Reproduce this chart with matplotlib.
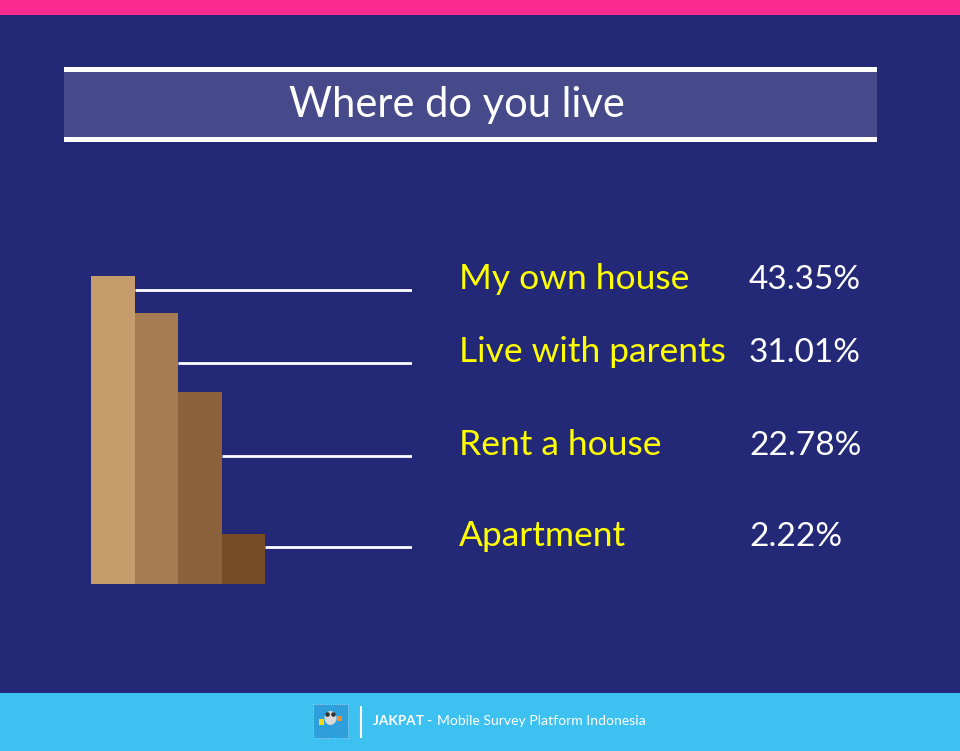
import matplotlib
matplotlib.use("Agg")
from matplotlib import pyplot as plt
from matplotlib import patches, transforms

# survey answers
categories = ['My own house', 'Live with parents', 'Rent a house', 'Apartment']
percent_labels = ['43.35%', '31.01%', '22.78%', '2.22%']
# bar heights and leader line levels as drawn in the picture (px-ish units)
bar_heights = [308, 271, 192, 50]
line_levels = [294, 221, 128, 37]
bar_colors = ['#C69C6D', '#A67C52', '#8B6239', '#754C24']

title = 'Where do you live'
footer_bold = 'JAKPAT -'
footer_text = 'Mobile Survey Platform Indonesia'

W, H = 960, 751
bg = '#232877'
font = 'Lato'

fig = plt.figure(figsize=(W / 100, H / 100), dpi=100)
fig.patch.set_facecolor(bg)

# background decorations in pixel coords
deco = fig.add_axes([0, 0, 1, 1])
deco.set_xlim(0, W)
deco.set_ylim(H, 0)
deco.axis('off')
deco.add_patch(patches.Rectangle((0, 0), W, 14.5, color='#FA2B8E', lw=0))
deco.add_patch(patches.Rectangle((64, 71.5), 813, 65.5, color='#464A8A', lw=0))
deco.add_patch(patches.Rectangle((64, 67), 813, 4.5, color='white', lw=0))
deco.add_patch(patches.Rectangle((64, 137), 813, 4.5, color='white', lw=0))
deco.text(456.5, 117, title, color='white', fontsize=30, family=font,
          ha='center', va='baseline')

# footer
deco.add_patch(patches.Rectangle((0, 693), W, 58, color='#3DC1F1', lw=0))
deco.add_patch(patches.Rectangle((313, 704), 35, 34, facecolor='#2F9FDC',
                                 edgecolor='#BFE6FA', lw=0.6, ls=':'))
deco.add_patch(patches.Ellipse((330.5, 718), 12, 14, color='#D9D9D9', lw=0))
deco.add_patch(patches.Circle((327.5, 714.5), 2.3, color='#333333', lw=0))
deco.add_patch(patches.Circle((333.5, 714.5), 2.3, color='#333333', lw=0))
deco.add_patch(patches.Rectangle((319, 719), 5, 6, color='#F5D90A', lw=0))
deco.add_patch(patches.Rectangle((337, 716), 5, 5, color='#F28C28', lw=0))
deco.plot([361, 361], [707, 737], color='white', lw=1.5)
deco.text(373, 725, footer_bold, color='white', fontsize=9.8, family=font,
          weight='bold', va='baseline')
deco.text(437, 725, footer_text, color='white', fontsize=10.1, family=font,
          va='baseline')

# bars
bottom_px, top_px = 583.7, 263.7
left_px, right_px = 91, 412
ax = fig.add_axes([left_px / W, (H - bottom_px) / H,
                   (right_px - left_px) / W, (bottom_px - top_px) / H])
ax.set_facecolor('none')
unit = 43.5
ax.set_xlim(-0.5, -0.5 + (right_px - left_px) / unit)
ax.set_ylim(0, bottom_px - top_px)
ax.axis('off')

xs = list(range(len(categories)))
ax.bar(xs, bar_heights, width=1.0, color=bar_colors, linewidth=0)
xmax = ax.get_xlim()[1]
for x, lvl in zip(xs, line_levels):
    ax.hlines(lvl, x + 0.5, xmax, color='white', lw=2)

tr = transforms.blended_transform_factory(fig.transFigure, ax.transData)
for cat, pct, lvl in zip(categories, percent_labels, line_levels):
    ax.text(459 / W, lvl + 1, cat, transform=tr, color='#FFFF00',
            fontsize=25.5, family=font, va='baseline', ha='left')
    ax.text(749 / W, lvl + 1, pct, transform=tr, color='white',
            fontsize=24, family=font, va='baseline', ha='left')

fig.savefig('out.png', dpi=100, facecolor=bg)
